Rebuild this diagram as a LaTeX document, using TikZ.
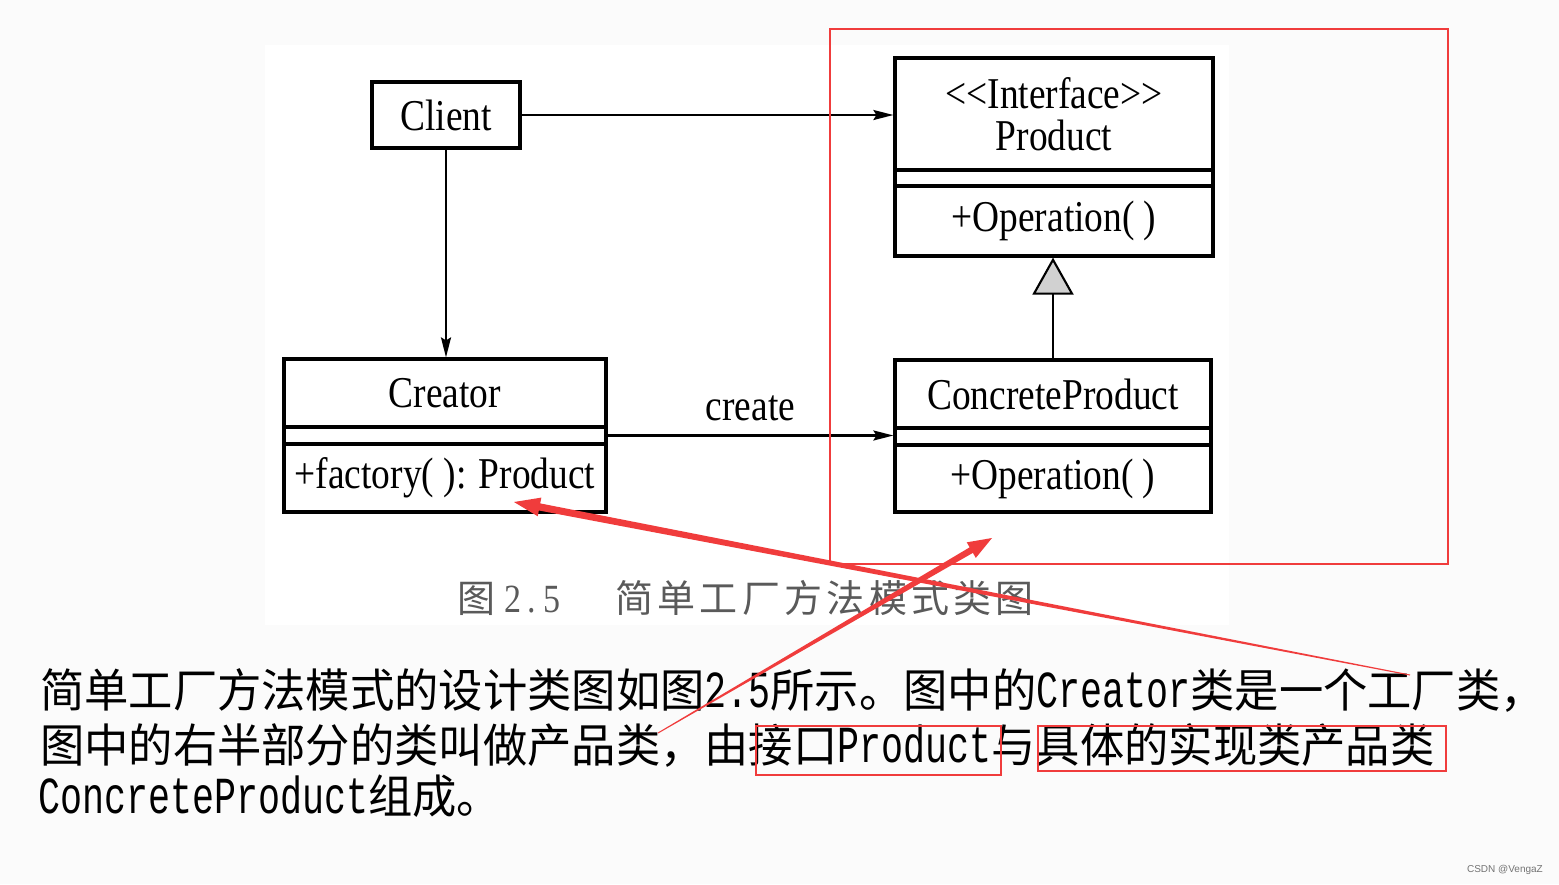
\documentclass[tikz,border=0pt]{standalone}
\usepackage{fontspec}
\usetikzlibrary{arrows.meta,calc}
\newfontfamily\umlfont[FakeStretch=0.85]{Liberation Serif}
\newfontfamily\cjkfont[FakeStretch=0.963]{Noto Sans CJK SC}
\newfontfamily\latmono[FakeStretch=0.705]{Liberation Mono}
\newfontfamily\capfont{Noto Sans CJK SC}
\newfontfamily\wmfont{Liberation Sans}
\definecolor{annot}{HTML}{F03C3C}
\definecolor{capgray}{HTML}{5A5A5A}
\newcommand\Lt[1]{{\latmono\fontsize{52}{52}\selectfont #1}}
\tikzset{
  umlbox/.style={draw, line width=3.2pt, rectangle, inner sep=0pt,
    font=\umlfont\fontsize{44}{42}\selectfont},
  conn/.style={line width=2.1pt},
  opentip/.style={-{Stealth[length=20pt,width=10pt,inset=3pt]}},
  bodytext/.style={anchor=base west, inner sep=0pt, font=\cjkfont\fontsize{46}{52}\selectfont},
  capt/.style={anchor=base west, inner sep=0pt, text=capgray, font=\capfont\fontsize{38}{40}\selectfont},
  redbox/.style={draw=annot, line width=2.7pt},
}
\begin{document}
\begin{tikzpicture}[x=1pt,y=-1pt]
\useasboundingbox (0,0) rectangle (1559,884);
\fill[white!98.5!black] (0,0) rectangle (1559,884);
\fill[white] (265,45) rectangle (1229,625);

% Client
\node[umlbox, minimum width=148pt, minimum height=66pt] (client) at (446,115) {Client};

% Product
\node[umlbox, minimum width=318pt, minimum height=112pt, align=center] (pname) at (1054,114)
  {\textless\textless Interface\textgreater\textgreater\\Product};
\node[umlbox, minimum width=318pt, minimum height=16pt] (pattr) at (1054,178) {};
\node[umlbox, minimum width=318pt, minimum height=70pt] (pops) at (1054,221) {+Operation( )};

% Creator
\node[umlbox, minimum width=322pt, minimum height=68pt] (crname) at (445,393) {Creator};
\node[umlbox, minimum width=322pt, minimum height=17pt] (crattr) at (445,435.5) {};
\node[umlbox, minimum width=322pt, minimum height=68pt] (crops) at (445,478) {+factory( ): Product};

% ConcreteProduct
\node[umlbox, minimum width=316pt, minimum height=68pt] (cpname) at (1053,394) {ConcreteProduct};
\node[umlbox, minimum width=316pt, minimum height=17pt] (cpattr) at (1053,436.5) {};
\node[umlbox, minimum width=316pt, minimum height=67pt] (cpops) at (1053,478.5) {+Operation( )};

% connectors
\draw[conn, opentip] (client.east) -- (client.east -| pname.west);
\draw[conn, opentip] (client.south) -- (client.south |- crname.north);
\draw[conn, opentip] (crattr.east) -- (crattr.east -| cpattr.west)
  node[midway, anchor=base, yshift=15pt, inner sep=0pt, font=\umlfont\fontsize{44}{42}\selectfont] (createlbl) {create};
\draw[conn, -{Triangle[length=37pt,width=41pt,fill=black!18]}] (cpname.north) -- (cpname.north |- pops.south);

% caption
\node[capt] (capfig) at (457,612) {图};
\node[anchor=base west, inner sep=0pt, text=capgray, font=\umlfont\fontsize{40}{40}\selectfont] (capnum) at (504,612) {2\kern6pt.\kern8pt5};
\foreach \c [count=\i from 0] in {简,单,工,厂,方,法,模,式,类,图}
  \node[capt] (cap\i) at ({615+42.3*\i},612) {\c};

% body text
\node[bodytext] (line1) at (40,707) {简单工厂方法模式的设计类图如图\Lt{2.5}所示。图中的\Lt{Creator}类是一个工厂类，};
\node[bodytext] (line2) at (40,762) {图中的右半部分的类叫做产品类，由接口\Lt{Product}与具体的实现类产品类};
\node[bodytext] (line3) at (38,813) {\Lt{ConcreteProduct}组成。};

% watermark
\node[anchor=base east, inner sep=0pt, text=black!55, font=\wmfont\fontsize{10}{10}\selectfont] (wm) at (1543,872) {CSDN @VengaZ};

% red annotations
\draw[redbox] (830,29) rectangle (1448,564);
\draw[redbox] (756,726) rectangle (1001,775);
\draw[redbox] (1038,726) rectangle (1446,771);

\coordinate (t1) at (1410,675); \coordinate (h1) at (514,502);
\coordinate (b1) at ($(h1)!26pt!(t1)$);
\fill[annot] ($(t1)!0.5pt!90:(h1)$) -- ($(b1)!3.6pt!-90:(t1)$) -- ($(b1)!9.5pt!-90:(t1)$) -- (h1)
  -- ($(b1)!9.5pt!90:(t1)$) -- ($(b1)!3.6pt!90:(t1)$) -- ($(t1)!0.5pt!-90:(h1)$) -- cycle;

\coordinate (t2) at (658,733); \coordinate (h2) at (992,538);
\coordinate (b2) at ($(h2)!24pt!(t2)$);
\fill[annot] ($(t2)!0.5pt!90:(h2)$) -- ($(b2)!3.2pt!-90:(t2)$) -- ($(b2)!9pt!-90:(t2)$) -- (h2)
  -- ($(b2)!9pt!90:(t2)$) -- ($(b2)!3.2pt!90:(t2)$) -- ($(t2)!0.5pt!-90:(h2)$) -- cycle;
\end{tikzpicture}
\end{document}
